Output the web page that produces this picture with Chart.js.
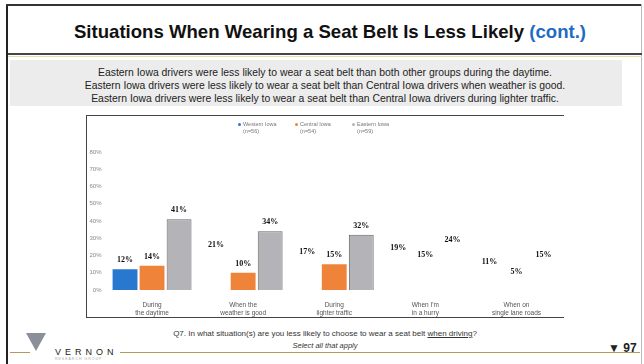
<!DOCTYPE html>
<html>
<head>
<meta charset="utf-8">
<script src="https://cdn.jsdelivr.net/npm/chart.js@4.4.1/dist/chart.umd.min.js"></script>
<style>
  body { margin: 0; width: 644px; height: 364px; background: #fff; position: relative; overflow: hidden; font-family: "Liberation Sans", Arial, sans-serif; }
  .abs { position: absolute; }
  #frameL { left: 6px; top: 4px; width: 2px; height: 360px; background: #222; }
  #frameT { left: 6px; top: 4px; width: 636px; height: 2px; background: #333; }
  #frameR { left: 641px; top: 4px; width: 1px; height: 360px; background: #bbb; }
  #titleLine { left: 8px; top: 53px; width: 634px; height: 2px; background: #444; }
  #goldTop { left: 8px; top: 56px; width: 634px; height: 1px; background: #e8dca8; }
  #title { left: 8px; top: 21px; width: 644px; text-align: center; font-weight: bold; font-size: 18.6px; color: #111; }
  #title span { color: #1f6cc4; }
  #band { left: 10px; top: 60px; width: 612px; height: 46px; background: #ececec; }
  #bandText { left: 0; top: 66px; width: 650px; text-align: center; font-size: 10.4px; line-height: 13px; color: #222; }
  #box { left: 86px; top: 115px; width: 478px; height: 203px; border: 1px solid #444; border-right: none; box-sizing: border-box; }
  #chartWrap { left: 86px; top: 115px; }
  #legend { left: 238px; top: 121px; font-size: 5.5px; color: #777; line-height: 7px; }
  .li { position: absolute; white-space: nowrap; }
  .dot { display: inline-block; width: 3px; height: 3px; border-radius: 50%; margin-right: 2px; vertical-align: middle; }
  #q { left: 0; top: 329px; width: 650px; text-align: center; font-size: 8px; color: #333; }
  #sel { left: 0; top: 341px; width: 650px; text-align: center; font-size: 7.5px; color: #333; font-style: italic; }
  #page { left: 608px; top: 341px; font-size: 12px; font-weight: bold; color: #222; }
  #gold1 { left: 10px; top: 352px; width: 20px; height: 1px; background: #b59a5a; }
  #gold2 { left: 120px; top: 352px; width: 520px; height: 1px; background: #b59a5a; }
  #vernon { left: 55px; top: 347px; font-size: 9px; letter-spacing: 4px; color: #222; }
  #vsub { left: 55px; top: 357px; font-size: 3.5px; letter-spacing: 1px; color: #aaa; }
  #logo { left: 26px; top: 333px; width: 0; height: 0; border-left: 10px solid transparent; border-right: 10px solid transparent; border-top: 18px solid #8a8f99; }
</style>
</head>
<body>
<div class="abs" id="frameL"></div>
<div class="abs" id="frameT"></div>
<div class="abs" id="frameR"></div>
<div class="abs" id="title">Situations When Wearing a Seat Belt Is Less Likely <span>(cont.)</span></div>
<div class="abs" id="titleLine"></div>
<div class="abs" id="goldTop"></div>
<div class="abs" id="band"></div>
<div class="abs" id="bandText">
  Eastern Iowa drivers were less likely to wear a seat belt than both other groups during the daytime.<br>
  Eastern Iowa drivers were less likely to wear a seat belt than Central Iowa drivers when weather is good.<br>
  Eastern Iowa drivers were less likely to wear a seat belt than Central Iowa drivers during lighter traffic.
</div>
<div class="abs" id="box"></div>
<div class="abs" id="chartWrap"><canvas id="chart" width="478" height="203"></canvas></div>
<div class="abs" id="legend"></div>
<div class="abs" id="q">Q7. In what situation(s) are you less likely to choose to wear a seat belt <u>when driving</u>?</div>
<div class="abs" id="sel">Select all that apply</div>
<div class="abs" id="page">&#9660; 97</div>
<div class="abs" id="logo"></div>
<div class="abs" id="gold1"></div>
<div class="abs" id="gold2"></div>
<div class="abs" id="vernon">VERNON</div>
<div class="abs" id="vsub">RESEARCH GROUP</div>

<script>
const categories = [
  ["During", "the daytime"],
  ["When the", "weather is good"],
  ["During", "lighter traffic"],
  ["When I'm", "in a hurry"],
  ["When on", "single lane roads"]
];
const seriesNames = ["Western Iowa", "Central Iowa", "Eastern Iowa"];
const seriesN = ["(n=56)", "(n=54)", "(n=59)"];
const western = [12, 21, 17, 19, 11];
const central = [14, 10, 15, 15, 5];
const eastern = [41, 34, 32, 24, 15];
// bars that came out blank in the scanned slide
const westernShown = [true, false, false, false, false];
const centralShown = [true, true, true, false, false];
const easternShown = [true, true, true, false, false];
const yTicks = [0, 10, 20, 30, 40, 50, 60, 70, 80];

const colors = ["#2878d0", "#f0833a", "#b4b4b8"];

const legend = document.getElementById("legend");
seriesNames.forEach((name, i) => {
  const d = document.createElement("div");
  d.className = "li";
  d.style.left = (i * 57) + "px";
  d.innerHTML = `<span class="dot" style="background:${colors[i]}"></span>${name}<br><span style="margin-left:5px">${seriesN[i]}</span>`;
  legend.appendChild(d);
});

function pick(shown, color) {
  return shown.map(s => s ? color : "rgba(0,0,0,0)");
}

const valueLabels = {
  id: "valueLabels",
  afterDatasetsDraw(chart) {
    const ctx = chart.ctx;
    ctx.save();
    ctx.font = "bold 8px 'Liberation Serif', serif";
    ctx.fillStyle = "#111";
    ctx.textAlign = "center";
    ctx.textBaseline = "bottom";
    chart.data.datasets.forEach((ds, i) => {
      chart.getDatasetMeta(i).data.forEach((bar, j) => {
        ctx.fillText(ds.data[j] + "%", bar.x, bar.y - 5);
      });
    });
    ctx.restore();
  }
};

new Chart(document.getElementById("chart"), {
  type: "bar",
  data: {
    labels: categories,
    datasets: [
      { label: seriesNames[0], data: western, backgroundColor: pick(westernShown, colors[0]) },
      { label: seriesNames[1], data: central, backgroundColor: pick(centralShown, colors[1]) },
      { label: seriesNames[2], data: eastern, backgroundColor: pick(easternShown, colors[2]),
        borderColor: pick(easternShown, "#666"), borderWidth: 1, borderDash: [1, 1] }
    ]
  },
  options: {
    responsive: false,
    animation: false,
    categoryPercentage: 0.89,
    barPercentage: 0.92,
    layout: { padding: { top: 37, right: 2, left: 0, bottom: 0 } },
    plugins: { legend: { display: false }, tooltip: { enabled: false } },
    scales: {
      x: {
        grid: { display: false },
        border: { display: false },
        afterFit(axis) { axis.height = 28; },
        ticks: { color: "#555", font: { size: 6.5, lineHeight: 1.3 }, padding: 3, maxRotation: 0 }
      },
      y: {
        min: 0,
        max: 80,
        grid: { display: false, drawTicks: false },
        border: { display: false },
        afterFit(axis) { axis.width = 20.5; },
        afterBuildTicks(axis) { axis.ticks = yTicks.map(v => ({ value: v })); },
        ticks: { color: "#888", font: { size: 6 }, padding: 5, callback: v => v + "%" }
      }
    }
  },
  plugins: [valueLabels]
});
</script>
</body>
</html>
